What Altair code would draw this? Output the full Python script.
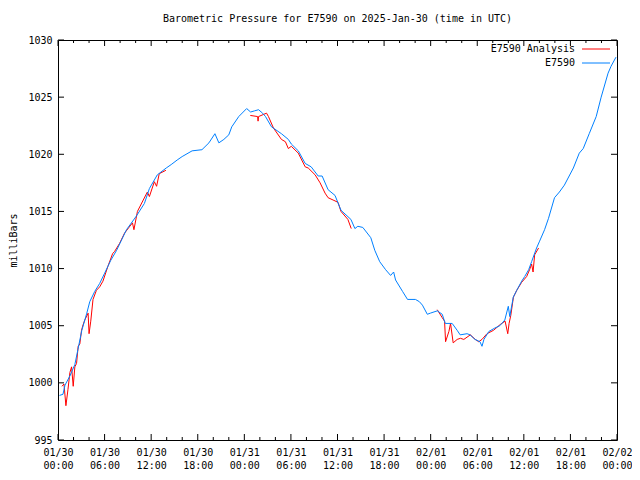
import altair as alt
import pandas as pd

TITLE = "Barometric Pressure for E7590 on 2025-Jan-30 (time in UTC)"
Y_TITLE = "milliBars"
SERIES = ["E7590 Analysis", "E7590"]
COLORS = ["#ff0000", "#0080ff"]
DAY_LABELS = ["01/30", "01/31", "02/01", "02/02"]
X_TICKS = list(range(0, 73, 6))            # hours since 2025-01-30 00:00 UTC
X_MINOR = [h for h in range(0, 73, 2) if h % 6]
Y_TICKS = [995, 1000, 1005, 1010, 1015, 1020, 1025, 1030]

# E7590 observations (hours, mb)
blue_h = [0.19, 0.64, 0.90, 1.53, 2.17, 2.56, 3.07, 3.71, 4.09, 4.73, 5.37, 6.01,
          6.78, 7.55, 8.82, 10.10, 11.13, 11.77, 12.79, 13.94, 14.58, 15.35, 15.99,
          17.27, 18.54, 19.44, 20.21, 20.72, 21.36, 22.00, 22.38, 23.28, 24.30, 24.81,
          25.32, 25.83, 26.35, 26.73, 27.50, 28.78, 29.67, 30.05, 30.95, 31.84, 32.61,
          33.51, 34.02, 34.79, 35.68, 36.45, 37.73, 38.24, 38.62, 39.26, 40.29, 40.80,
          41.44, 42.20, 42.84, 43.23, 43.48, 44.38, 45.02, 46.04, 46.55, 46.94, 47.57,
          47.96, 48.85, 49.49, 49.88, 50.77, 51.41, 51.80, 52.69, 53.07, 53.71, 54.35,
          54.61, 54.86, 55.50, 56.27, 56.91, 57.55, 58.00, 58.19, 58.64, 59.09, 59.72,
          60.11, 60.62, 61.00, 61.64, 62.03, 62.67, 63.18, 63.95, 64.58, 65.22, 66.38,
          67.14, 67.65, 68.42, 69.32, 69.96, 70.85, 71.23, 71.87]
blue_p = [998.9, 999.0, 999.8, 1000.6, 1001.6, 1002.9, 1004.6, 1006.1, 1007.1, 1008.0,
          1008.7, 1009.6, 1010.7, 1011.6, 1013.4, 1014.6, 1015.7, 1017.0, 1018.2, 1018.8,
          1019.1, 1019.5, 1019.8, 1020.3, 1020.4, 1021.0, 1021.8, 1021.0, 1021.3, 1021.7,
          1022.4, 1023.3, 1024.0, 1023.7, 1023.8, 1023.9, 1023.6, 1023.3, 1022.4, 1021.8,
          1021.3, 1020.9, 1020.3, 1019.2, 1018.9, 1018.1, 1018.1, 1016.9, 1016.4, 1015.1,
          1014.3, 1013.5, 1013.7, 1013.6, 1012.7, 1011.6, 1010.6, 1009.9, 1009.4, 1009.7,
          1009.0, 1008.0, 1007.3, 1007.3, 1007.1, 1006.8, 1006.0, 1006.1, 1006.3, 1006.0,
          1005.2, 1005.2, 1004.6, 1004.2, 1004.3, 1004.2, 1003.8, 1003.6, 1003.2, 1003.8,
          1004.5, 1004.8, 1005.0, 1005.5, 1006.7, 1005.8, 1007.5, 1008.1, 1008.9, 1009.3,
          1009.9, 1010.6, 1011.8, 1012.4, 1013.4, 1014.4, 1016.2, 1016.7, 1017.3, 1018.8,
          1020.1, 1020.5, 1021.8, 1023.3, 1025.0, 1027.1, 1027.7, 1028.5]

# E7590 Analysis, three separate pieces
red1_h = [0.51, 0.77, 1.02, 1.28, 1.53, 1.75, 1.96, 2.17, 2.39, 2.60, 2.81, 3.03, 3.24,
          3.45, 3.88, 4.00, 4.22, 4.51, 4.95, 5.37, 5.79, 6.43, 7.03, 7.29, 7.93, 8.57,
          9.59, 9.78, 10.23, 11.51, 11.77, 12.41, 12.70, 13.04, 13.90]
red1_p = [999.7, 999.9, 998.0, 999.4, 1000.9, 1001.4, 999.7, 1001.4, 1001.7, 1003.2,
          1003.4, 1004.6, 1005.1, 1005.5, 1006.1, 1004.3, 1005.4, 1007.3, 1008.1, 1008.4,
          1008.9, 1010.2, 1011.3, 1011.5, 1012.2, 1013.1, 1014.0, 1013.4, 1015.0, 1016.7,
          1016.3, 1017.6, 1017.2, 1018.3, 1018.6]
red2_h = [24.77, 25.71, 25.77, 25.83, 26.86, 27.11, 27.75, 28.78, 29.29, 29.67, 30.05,
          30.95, 31.84, 32.23, 33.12, 33.76, 34.40, 34.79, 35.43, 36.06, 36.45, 36.96,
          37.34, 37.77]
red2_p = [1023.4, 1023.3, 1022.9, 1023.3, 1023.6, 1023.3, 1022.3, 1021.3, 1021.1, 1020.5,
          1020.7, 1020.1, 1018.9, 1018.8, 1018.2, 1017.5, 1016.6, 1016.2, 1016.0, 1015.8,
          1015.0, 1014.6, 1014.3, 1013.5]
red3_h = [48.85, 49.49, 49.79, 49.92, 50.35, 50.56, 50.90, 51.41, 51.83, 52.27, 53.11,
          53.75, 54.19, 54.61, 55.25, 56.10, 56.95, 57.59, 57.93, 58.10, 58.32, 58.66,
          59.09, 59.72, 60.36, 60.74, 61.00, 61.19, 61.39, 61.90]
red3_p = [1006.4, 1005.7, 1005.4, 1003.6, 1004.5, 1005.2, 1003.5, 1003.8, 1003.9, 1003.8,
          1004.2, 1003.8, 1003.6, 1003.8, 1004.3, 1004.6, 1005.1, 1005.4, 1004.3, 1005.2,
          1005.9, 1007.5, 1008.1, 1008.8, 1009.3, 1009.9, 1010.4, 1009.7, 1011.2, 1011.8]

FONT = "DejaVu Sans Mono"
W, H = 559, 400

blue_df = pd.DataFrame({"h": blue_h, "p": blue_p, "seg": 0})
red_df = pd.concat([
    pd.DataFrame({"h": red1_h, "p": red1_p, "seg": 1}),
    pd.DataFrame({"h": red2_h, "p": red2_p, "seg": 2}),
    pd.DataFrame({"h": red3_h, "p": red3_p, "seg": 3}),
], ignore_index=True)

xs = alt.Scale(domain=[0, 72], nice=False, zero=False)
ys = alt.Scale(domain=[995, 1030], nice=False, zero=False)

day_arr = "[" + ",".join(f"'{d}'" for d in DAY_LABELS) + "]"
label_expr = (f"[{day_arr}[floor(datum.value/24)], "
              "(datum.value%24<10?'0':'')+(datum.value%24)+':00']")

xaxis = alt.Axis(values=X_TICKS, labelExpr=label_expr, ticks=False, domain=False,
                 grid=False, title=None, labelFont=FONT, labelFontSize=10,
                 labelColor="black", labelPadding=7, labelLineHeight=13,
                 labelFlush=False, labelOverlap=False)
yaxis = alt.Axis(values=Y_TICKS, format="d", ticks=False, domain=False, grid=False,
                 title=Y_TITLE, labelFont=FONT, labelFontSize=10, labelColor="black",
                 labelPadding=6, titleFont=FONT, titleFontSize=10,
                 titleFontWeight="normal", titleColor="black", titleX=-40, titleY=H / 2)

red = alt.Chart(red_df).mark_line(color=COLORS[0], strokeWidth=1).encode(
    x=alt.X("h:Q", scale=xs, axis=xaxis),
    y=alt.Y("p:Q", scale=ys, axis=yaxis),
    detail="seg:N",
)
blue = alt.Chart(blue_df).mark_line(color=COLORS[1], strokeWidth=1).encode(
    x=alt.X("h:Q", scale=xs),
    y=alt.Y("p:Q", scale=ys),
    detail="seg:N",
)

def xticks(vals, length):
    d = pd.DataFrame({"h": vals})
    b = alt.Chart(d).mark_rule(color="black", strokeWidth=1).encode(
        x=alt.X("h:Q", scale=xs), y=alt.value(H), y2=alt.value(H - length))
    t = alt.Chart(d).mark_rule(color="black", strokeWidth=1).encode(
        x=alt.X("h:Q", scale=xs), y=alt.value(0), y2=alt.value(length))
    return [b, t]

yd = pd.DataFrame({"p": Y_TICKS})
yl = alt.Chart(yd).mark_rule(color="black", strokeWidth=1).encode(
    y=alt.Y("p:Q", scale=ys), x=alt.value(0), x2=alt.value(6))
yr = alt.Chart(yd).mark_rule(color="black", strokeWidth=1).encode(
    y=alt.Y("p:Q", scale=ys), x=alt.value(W), x2=alt.value(W - 6))

leg_layers = []
for i, (name, col) in enumerate(zip(SERIES, COLORS)):
    yy = 9 + 14 * i
    leg_layers.append(alt.Chart(pd.DataFrame({"label": [name]})).mark_text(
        align="right", baseline="middle", font=FONT, fontSize=10, color="black").encode(
        text="label:N", x=alt.value(517), y=alt.value(yy)))
    leg_layers.append(alt.Chart(pd.DataFrame({"label": [name]})).mark_rule(
        color=col, strokeWidth=1).encode(
        x=alt.value(524), x2=alt.value(552), y=alt.value(yy)))

chart = alt.layer(
    red, blue, *xticks(X_TICKS, 6), *xticks(X_MINOR, 3), yl, yr, *leg_layers
).properties(
    width=W, height=H,
    title=alt.TitleParams(TITLE, font=FONT, fontSize=10, fontWeight="normal",
                          color="black", anchor="middle", offset=11),
    autosize=alt.AutoSizeParams(type="none"),
    padding={"left": 50, "top": 32, "right": 15, "bottom": 30},
    background="white",
).configure_view(stroke="black", strokeWidth=1)

chart.save("out.html", embed_options={"renderer": "svg", "actions": False})
